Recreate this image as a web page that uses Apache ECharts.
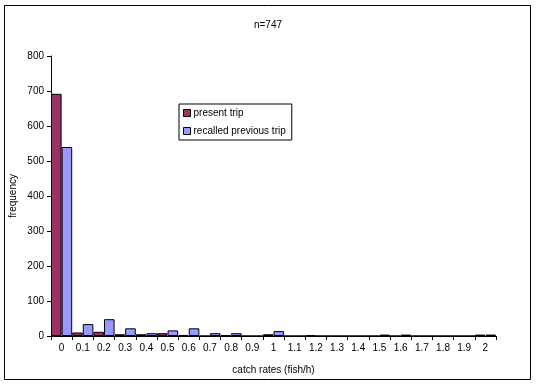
<!DOCTYPE html>
<html>
<head>
<meta charset="utf-8">
<script src="https://cdn.jsdelivr.net/npm/echarts@6/dist/echarts.min.js"></script>
<style>html,body{margin:0;padding:0;background:#fff;}#c{width:536px;height:385px;}</style>
</head>
<body>
<div id="c"></div>
<script>
var categories = ['0','0.1','0.2','0.3','0.4','0.5','0.6','0.7','0.8','0.9','1','1.1','1.2','1.3','1.4','1.5','1.6','1.7','1.8','1.9','2'];
var presentTrip = [692, 10, 12, 5, 5, 8, 3, 0, 2, 0, 5, 0, 2, 0, 0, 0, 0, 0, 0, 0, 4];
var recalledTrip = [540, 34, 48, 22, 8, 16, 22, 8, 8, 0, 14, 0, 0, 0, 0, 4, 4, 0, 0, 0, 4];
var yTicks = [0, 100, 200, 300, 400, 500, 600, 700, 800];

var chart = echarts.init(document.getElementById('c'), null, {renderer: 'canvas'});
var font = 'Liberation Sans, Arial, sans-serif';
chart.setOption({
  animation: false,
  backgroundColor: '#fff',
  textStyle: {fontFamily: font},
  title: {
    text: 'n=747', left: 'center', top: 15,
    textStyle: {fontSize: 10, fontWeight: 'normal', color: '#000', fontFamily: font}
  },
  legend: {
    orient: 'vertical', left: 179, top: 104,
    padding: [4, 6, 4, 4],
    itemWidth: 7, itemHeight: 7, itemGap: 8,
    borderColor: '#000', borderWidth: 1, backgroundColor: '#fff',
    textStyle: {fontSize: 10, color: '#000', fontFamily: font, padding: [0, 0, 0, -2]},
    data: [
      {name: 'present trip', icon: 'rect', itemStyle: {borderColor: '#000', borderWidth: 1}},
      {name: 'recalled previous trip', icon: 'rect', itemStyle: {borderColor: '#000', borderWidth: 1}}
    ]
  },
  grid: {left: 49, right: 40, top: 56, bottom: 49, containLabel: false},
  xAxis: {
    type: 'category', data: categories, boundaryGap: true,
    name: 'catch rates (fish/h)', nameLocation: 'middle', nameGap: 29,
    nameTextStyle: {fontSize: 10, color: '#000', fontFamily: font},
    axisLine: {lineStyle: {color: '#000', width: 1}},
    axisTick: {show: true, length: 4, alignWithLabel: false, lineStyle: {color: '#000'}},
    axisLabel: {fontSize: 10, color: '#000', margin: 7, interval: 0, fontFamily: font},
    splitLine: {show: false}
  },
  yAxis: {
    type: 'value', min: yTicks[0], max: yTicks[yTicks.length - 1], interval: 100,
    name: 'frequency', nameLocation: 'middle', nameGap: 33, nameRotate: 90,
    nameMoveOverlap: false,
    nameTextStyle: {fontSize: 10, color: '#000', fontFamily: font},
    axisLine: {show: true, lineStyle: {color: '#000', width: 1}},
    axisTick: {show: true, length: 4, lineStyle: {color: '#000'}},
    axisLabel: {fontSize: 10, color: '#000', margin: 7, fontFamily: font},
    splitLine: {show: false}
  },
  series: [
    {
      name: 'present trip', type: 'bar', data: presentTrip,
      barGap: '0%', barCategoryGap: '0%',
      itemStyle: {color: '#993366', borderColor: '#000', borderWidth: 1}
    },
    {
      name: 'recalled previous trip', type: 'bar', data: recalledTrip,
      barGap: '0%', barCategoryGap: '0%',
      itemStyle: {color: '#9999FF', borderColor: '#000', borderWidth: 1}
    }
  ],
  graphic: [{
    type: 'rect', shape: {x: 4.5, y: 5.5, width: 526, height: 374},
    style: {fill: null, stroke: '#000', lineWidth: 1}, silent: true, z: -1
  }]
});
</script>
</body>
</html>
